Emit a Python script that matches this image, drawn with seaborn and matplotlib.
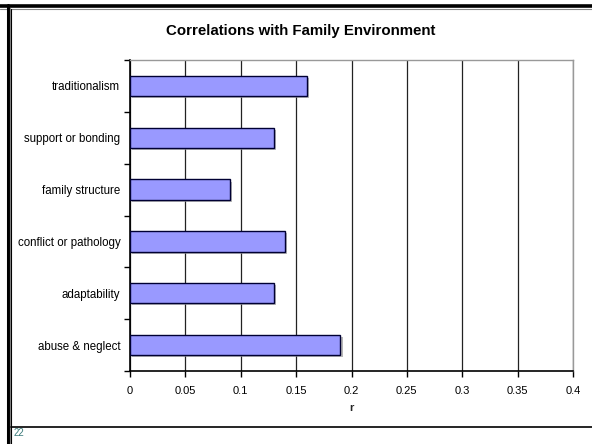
import matplotlib
matplotlib.use("Agg")
import matplotlib.pyplot as plt
import matplotlib.patheffects as pe
from matplotlib.lines import Line2D
import numpy as np
import pandas as pd
import seaborn as sns

# Correlation of each family-environment factor with the outcome
categories = [
    "traditionalism",
    "support or bonding",
    "family structure",
    "conflict or pathology",
    "adaptability",
    "abuse & neglect",
]
r_values = [0.16, 0.13, 0.09, 0.14, 0.13, 0.19]
x_ticks = [0, 0.05, 0.1, 0.15, 0.2, 0.25, 0.3, 0.35, 0.4]
x_tick_labels = ["0", "0.05", "0.1", "0.15", "0.2", "0.25", "0.3", "0.35", "0.4"]
title = "Correlations with Family Environment"
page_number = "22"

df = pd.DataFrame({"factor": categories, "r": r_values})

sns.set_theme(style="white")
plt.rcParams["font.family"] = ["Liberation Sans", "DejaVu Sans"]

fig = plt.figure(figsize=(5.92, 4.44), dpi=100)
ax = fig.add_axes([130 / 592, 1 - 371 / 444, 443 / 592, 311 / 444])

sns.barplot(
    data=df, x="r", y="factor", order=categories, orient="h",
    color="#9999FF", saturation=1, width=0.39,
    edgecolor="#000033", linewidth=1.0, ax=ax, zorder=3,
)
for bar in ax.patches:
    bar.set_path_effects([
        pe.SimplePatchShadow(offset=(1.5, -1.5), shadow_rgbFace="#999999", alpha=0.7),
        pe.Normal(),
    ])

ax.set_xlim(0, 0.4)
ax.set_ylim(len(categories) - 0.5, -0.5)
ax.set_xticks(x_ticks)
ax.set_xticklabels(x_tick_labels, fontsize=8)
ax.set_yticks(range(len(categories)))
ax.set_yticklabels(categories, fontsize=8.3)
ax.set_yticks(np.arange(-0.5, len(categories), 1.0), minor=True)
ax.tick_params(axis="y", which="major", length=0, pad=7, colors="black")
ax.tick_params(axis="y", which="minor", left=True, length=4, width=1, color="black")
ax.tick_params(axis="x", which="major", bottom=True, length=4, width=1,
               color="black", pad=7, colors="black")
ax.set_xlabel("r", fontsize=8, fontweight="bold", labelpad=5)
ax.set_ylabel("")

ax.grid(axis="x", color="#222222", linewidth=0.9, zorder=0)
ax.grid(axis="y", visible=False)
ax.set_axisbelow(True)

for side in ("left", "bottom"):
    ax.spines[side].set_color("black")
    ax.spines[side].set_linewidth(1.2)
for side in ("top", "right"):
    ax.spines[side].set_color("#999999")
    ax.spines[side].set_linewidth(1.0)

fig.text(301 / 592, 1 - 31 / 444, title, ha="center", va="center",
         fontsize=10.8, fontweight="bold", color="black")

# Slide frame: heavy top and left rules, thin bottom rule, page number
fig.add_artist(Line2D([0, 1], [1 - 6.5 / 444] * 2, transform=fig.transFigure,
                      color="black", linewidth=2.6))
fig.add_artist(Line2D([0, 1], [1 - 8.8 / 444] * 2, transform=fig.transFigure,
                      color="#888888", linewidth=0.8))
fig.add_artist(Line2D([8 / 592] * 2, [0, 1 - 5 / 444], transform=fig.transFigure,
                      color="black", linewidth=2.2))
fig.add_artist(Line2D([10 / 592] * 2, [0, 1 - 8 / 444], transform=fig.transFigure,
                      color="#888888", linewidth=0.8))
fig.add_artist(Line2D([11 / 592] * 2, [0, 1 - 9 / 444], transform=fig.transFigure,
                      color="black", linewidth=0.8))
fig.add_artist(Line2D([11 / 592, 1], [1 - 427 / 444] * 2, transform=fig.transFigure,
                      color="black", linewidth=1.2))
fig.text(14 / 592, 1 - 433 / 444, page_number, ha="left", va="center",
         fontsize=7, color="#3A7A7A")

fig.savefig("out.png", dpi=100, facecolor="white")
